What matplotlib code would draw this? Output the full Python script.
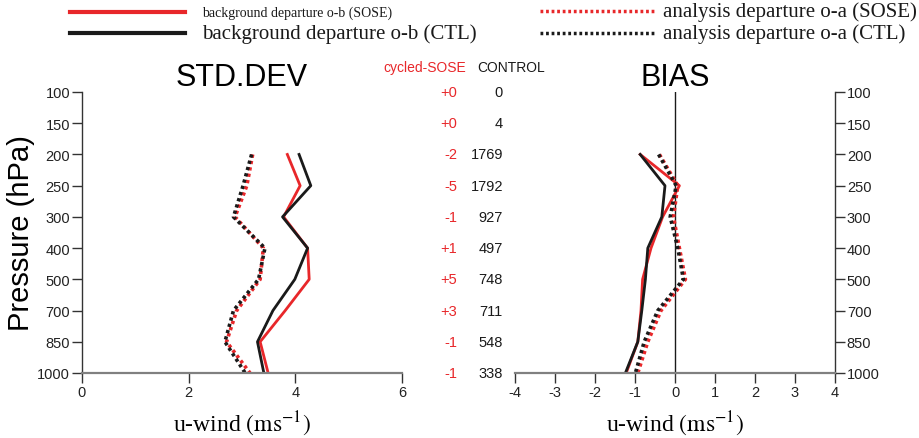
import matplotlib
matplotlib.use("Agg")
import matplotlib.pyplot as plt
import matplotlib.transforms as mtransforms
from matplotlib.lines import Line2D

plt.rcParams['font.family'] = ['Liberation Sans', 'DejaVu Sans']
plt.rcParams['mathtext.fontset'] = 'stix'

levels = [100, 150, 200, 250, 300, 400, 500, 700, 850, 1000]
idx = list(range(len(levels)))
data_levels = idx[2:]

# STD.DEV (200..1000 hPa)
std_ob_sose = [3.85, 4.09, 3.78, 4.23, 4.26, 3.81, 3.34, 3.49]
std_ob_ctl = [4.07, 4.29, 3.76, 4.23, 3.99, 3.58, 3.29, 3.41]
std_oa_sose = [3.20, 3.09, 2.87, 3.40, 3.34, 2.90, 2.71, 3.15]
std_oa_ctl = [3.18, 3.02, 2.84, 3.43, 3.31, 2.84, 2.68, 3.06]

# BIAS (200..1000 hPa)
bias_ob_sose = [-0.87, 0.11, -0.31, -0.60, -0.81, -0.85, -0.93, -1.22]
bias_ob_ctl = [-0.87, -0.25, -0.33, -0.68, -0.74, -0.83, -0.93, -1.24]
bias_oa_sose = [-0.39, 0.07, -0.04, 0.11, 0.26, -0.35, -0.68, -0.93]
bias_oa_ctl = [-0.41, 0.03, -0.12, 0.07, 0.21, -0.43, -0.77, -0.99]

count_diff = ['+0', '+0', '-2', '-5', '-1', '+1', '+5', '+3', '-1', '-1']
count_ctl = [0, 4, 1769, 1792, 927, 497, 748, 711, 548, 338]

RED = '#e8272a'
BLACK = '#1a1a1a'
dots = (0, (0.9, 0.9))

W, H = 920, 439
fig = plt.figure(figsize=(W / 100, H / 100), dpi=100)
ax1 = fig.add_axes([82 / W, 65 / H, 320 / W, 281 / H])
ax2 = fig.add_axes([515 / W, 65 / H, 320 / W, 281 / H])


def style_axis(ax, side):
    ax.set_ylim(9, 0)
    ax.set_yticks(idx)
    ax.set_yticklabels([str(l) for l in levels])
    for s in ['top', 'left', 'right']:
        ax.spines[s].set_visible(False)
    ax.spines[side].set_visible(True)
    ax.spines[side].set_color('#333333')
    ax.spines[side].set_linewidth(1.0)
    ax.spines['bottom'].set_color('#808080')
    ax.spines['bottom'].set_linewidth(1.6)
    ax.tick_params(axis='both', direction='out', length=7, width=1.0,
                   color='#333333', labelsize=10.5, labelcolor='#222222', pad=1.5)
    if side == 'right':
        ax.yaxis.tick_right()


ax1.plot(std_ob_sose, data_levels, color=RED, lw=2)
ax1.plot(std_ob_ctl, data_levels, color=BLACK, lw=2)
ax1.plot(std_oa_sose, data_levels, color=RED, lw=2.6, ls=dots)
ax1.plot(std_oa_ctl, data_levels, color=BLACK, lw=2.6, ls=dots)
ax1.set_xlim(0, 6)
ax1.set_xticks([0, 2, 4, 6])
style_axis(ax1, 'left')
ax1.set_title('STD.DEV', fontsize=22, pad=4)
ax1.set_ylabel('Pressure (hPa)', fontsize=21, labelpad=2)
ax1.set_xlabel(r'u-wind $(\mathrm{ms}^{-1})$', fontsize=17,
               family='Liberation Serif', labelpad=7)

ax2.axvline(0, color=BLACK, lw=1.0)
ax2.plot(bias_ob_sose, data_levels, color=RED, lw=2)
ax2.plot(bias_ob_ctl, data_levels, color=BLACK, lw=2)
ax2.plot(bias_oa_sose, data_levels, color=RED, lw=2.6, ls=dots)
ax2.plot(bias_oa_ctl, data_levels, color=BLACK, lw=2.6, ls=dots)
ax2.set_xlim(-4, 4)
ax2.set_xticks(range(-4, 5))
ax2.set_xticklabels([str(v) for v in range(-4, 5)])
style_axis(ax2, 'right')
ax2.set_title('BIAS', fontsize=22, pad=4)
ax2.set_xlabel(r'u-wind $(\mathrm{ms}^{-1})$', fontsize=17,
               family='Liberation Serif', labelpad=7)

# observation counts column
tr = mtransforms.blended_transform_factory(fig.transFigure, ax1.transData)
fig.text(466 / W, 1 - 68 / H, 'cycled-SOSE', color=RED, fontsize=10,
         ha='right', va='center')
fig.text(477 / W, 1 - 68 / H, 'CONTROL', color=BLACK, fontsize=10,
         ha='left', va='center')
for i, (d, c) in enumerate(zip(count_diff, count_ctl)):
    fig.text(457 / W, i, d, color=RED, fontsize=10.5, ha='right',
             va='center', transform=tr)
    fig.text(503 / W, i, str(c), color=BLACK, fontsize=10.5, ha='right',
             va='center', transform=tr)

# legend, drawn by hand to match the original layout
leg_items = [
    (70, 185, 202, 13, RED, '-', 'background departure o-b (SOSE)', 10),
    (70, 185, 202, 34, BLACK, '-', 'background departure o-b (CTL)', 15),
    (540, 655, 663, 12, RED, (0, (0.8, 0.8)), 'analysis departure o-a (SOSE)', 15),
    (540, 655, 663, 34, BLACK, (0, (0.8, 0.8)), 'analysis departure o-a (CTL)', 15),
]
for x0, x1, tx, y, col, ls, lab, fs in leg_items:
    lw = 3 if ls == '-' else 2.5
    fig.add_artist(Line2D([x0 / W, x1 / W], [1 - y / H, 1 - y / H],
                          color=col, lw=lw, ls=ls, transform=fig.transFigure))
    fig.text(tx / W, 1 - y / H, lab, family='Liberation Serif', fontsize=fs,
             ha='left', va='center', color=BLACK)

fig.savefig('out.png', dpi=100)
